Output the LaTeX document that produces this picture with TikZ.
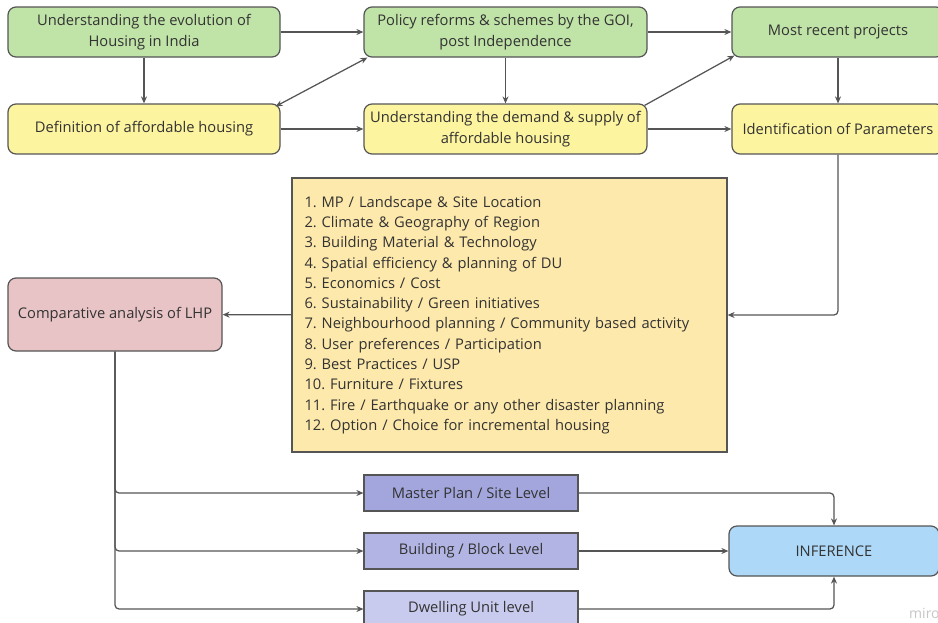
\documentclass[tikz,border=0pt]{standalone}
\usepackage{fontspec}
\setmainfont{Open Sans}
\usepackage{tikz}
\usetikzlibrary{arrows.meta}
\frenchspacing
\definecolor{boxgreen}{HTML}{C0E3A7}
\definecolor{boxyellow}{HTML}{FDF4A0}
\definecolor{listyellow}{HTML}{FDE9AB}
\definecolor{boxpink}{HTML}{E9C4C7}
\definecolor{boxblue}{HTML}{AED8F7}
\definecolor{lvlone}{HTML}{A3A6DC}
\definecolor{lvltwo}{HTML}{B2B5E4}
\definecolor{lvlthree}{HTML}{C9CBEE}
\definecolor{linegray}{HTML}{555555}
\definecolor{textgray}{HTML}{333333}

\begin{document}
\begin{tikzpicture}[x=1pt,y=-1pt,
    box/.style={draw=linegray, line width=1.2pt, rounded corners=8pt, align=center,
        text=textgray, inner sep=2pt, font=\fontsize{14.7}{20.3}\selectfont},
    flatbox/.style={box, rounded corners=0pt},
    arr/.style={->, draw=linegray, line width=1.25pt, rounded corners=4pt},
    >={Stealth[length=7pt,width=6pt]}]

    \useasboundingbox (0,0) rectangle (938,622);

    \node[box, fill=boxgreen, minimum width=272pt, minimum height=50pt] (evo) at (144,32) {Understanding the evolution of\\Housing in India};
    \node[box, fill=boxgreen, minimum width=283pt, minimum height=50pt] (pol) at (505.5,32) {Policy reforms \& schemes by the GOI,\\post Independence};
    \node[box, fill=boxgreen, minimum width=212pt, minimum height=50pt] (rec) at (838,32) {Most recent projects};

    \node[box, fill=boxyellow, minimum width=272pt, minimum height=50pt] (def) at (144,129) {Definition of affordable housing};
    \node[box, fill=boxyellow, minimum width=283pt, minimum height=50pt] (dem) at (505.5,129) {Understanding the demand \& supply of\\affordable housing};
    \node[box, fill=boxyellow, minimum width=212pt, minimum height=50pt] (par) at (838,129) {Identification of Parameters};

    \node[flatbox, fill=listyellow, minimum width=435pt, minimum height=274pt, text width=410pt, align=left] (lst) at (509.5,315) {
        1. MP / Landscape \& Site Location\\
        2. Climate \& Geography of Region\\
        3. Building Material \& Technology\\
        4. Spatial efficiency \& planning of DU\\
        5. Economics / Cost\\
        6. Sustainability / Green initiatives\\
        7. Neighbourhood planning / Community based activity\\
        8. User preferences / Participation\\
        9. Best Practices / USP\\
        10. Furniture / Fixtures\\
        11. Fire / Earthquake or any other disaster planning\\
        12. Option / Choice for incremental housing};

    \node[box, fill=boxpink, minimum width=214pt, minimum height=73pt] (cmp) at (115,314.5) {Comparative analysis of LHP};

    \node[flatbox, fill=lvlone, minimum width=214pt, minimum height=36pt] (mp) at (471,493) {Master Plan / Site Level};
    \node[flatbox, fill=lvltwo, minimum width=214pt, minimum height=36pt] (blk) at (471,551) {Building / Block Level};
    \node[flatbox, fill=lvlthree, minimum width=214pt, minimum height=36pt] (du) at (471,609) {Dwelling Unit level};
    \node[box, fill=boxblue, minimum width=210pt, minimum height=50pt] (inf) at (834,551) {INFERENCE};

    \node[text=gray!45, font=\fontsize{14}{14}\selectfont, anchor=west, inner sep=0pt] (wm) at (909,613) {miro};

    \draw[arr] (evo) -- (pol);
    \draw[arr] (pol) -- (rec);
    \draw[arr] (evo) -- (def);
    \draw[arr] (pol) -- (dem);
    \draw[arr] (rec) -- (par);
    \draw[arr] (def) -- (dem);
    \draw[arr] (dem) -- (par);
    \draw[arr, <->] ([xshift=-5pt,yshift=-3pt]def.north east) -- ([xshift=4pt]pol.south west);
    \draw[arr] ([xshift=-3pt,yshift=-2pt]dem.north east) -- ([xshift=3pt,yshift=2pt]rec.south west);

    \draw[arr] (par.south) |- (lst.east);
    \draw[arr] (lst) -- (cmp);
    \foreach \lvl in {mp,blk,du} \draw[arr] (cmp.south) |- (\lvl.west);

    \draw[arr] (mp.east) -| (inf.north);
    \draw[arr] (blk) -- (inf);
    \draw[arr] (du.east) -| (inf.south);

\end{tikzpicture}
\end{document}
